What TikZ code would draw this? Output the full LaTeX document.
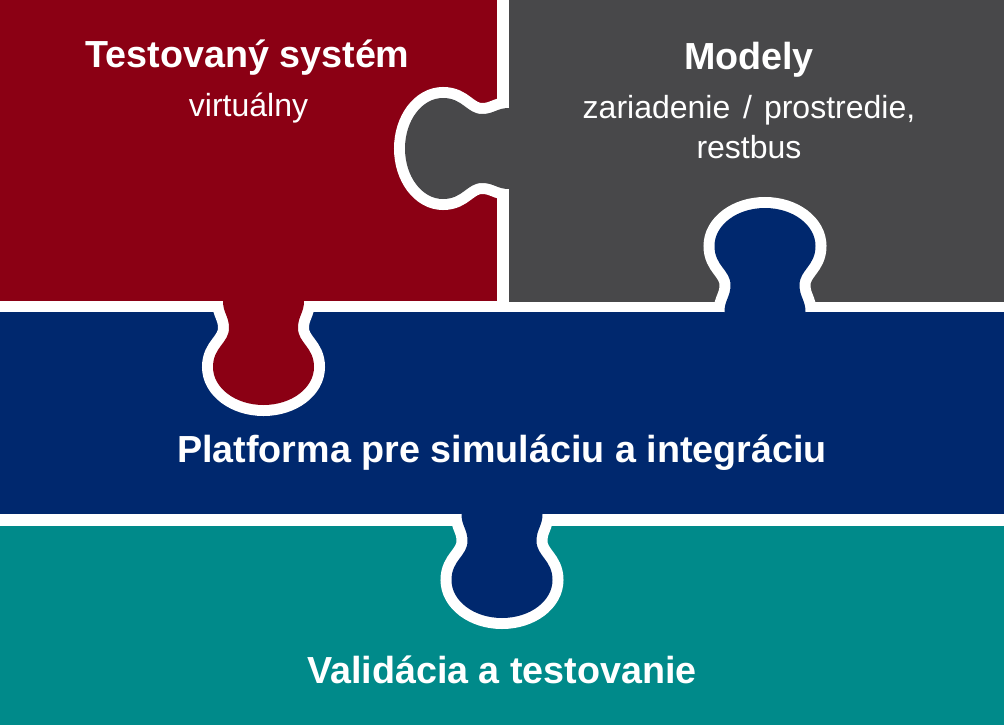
\documentclass[tikz,border=0pt]{standalone}
\usepackage{fontspec}
\setmainfont{Liberation Sans}
\usepackage{tikz}
\usetikzlibrary{positioning}
\definecolor{sutRed}{HTML}{8B0014}
\definecolor{modelGray}{HTML}{48484A}
\definecolor{platBlue}{HTML}{00286E}
\definecolor{valTeal}{HTML}{008A8A}

% one puzzle knob, local frame: base on y=0, knob grows along +y
\newcommand{\knob}{(-40.5,0) .. controls (-40.5,12) and (-34.5,15) .. (-34.5,27)
  .. controls (-34.5,42) and (-50.5,46) .. (-50.5,66)
  .. controls (-50.5,87) and (-28,104) .. (0,104)
  .. controls (28,104) and (50.5,87) .. (50.5,66)
  .. controls (50.5,46) and (34.5,42) .. (34.5,27)
  .. controls (34.5,15) and (40.5,12) .. (40.5,0)}

\begin{document}
\begin{tikzpicture}[
  x=1pt, y=-1pt,
  gap/.style={draw=white, line width=22pt},
  title/.style={text=white, font=\bfseries\fontsize{37.7}{42}\selectfont, anchor=base, inner sep=0pt},
  subtext/.style={text=white, font=\fontsize{32}{38}\selectfont, anchor=base, inner sep=0pt}
]
\useasboundingbox (0,0) rectangle (1004,725);
\fill[white] (0,0) rectangle (1004,725);
% the four pieces
\fill[sutRed] (0,0) rectangle (497,301);
\fill[modelGray] (509,0) rectangle (1004,302);
\fill[platBlue] (0,312) rectangle (1004,514);
\fill[valTeal] (0,526) rectangle (1004,725);
% knobs
\foreach \kx/\ky/\ang/\col in {263.5/301/0/sutRed, 765/312/180/platBlue, 502/514/0/platBlue, 509/148.5/-90/modelGray}{
  \begin{scope}[shift={(\kx,\ky)}, rotate=\ang]
    \draw[gap] \knob;
    \fill[\col] (-40.5,-2) -- \knob -- (40.5,-2) -- cycle;
  \end{scope}
}
% labels
\node[title] (sut) at (247.5,67) {Testovaný systém};
\node[subtext] (sutsub) at (248.5,116) {virtuálny};
\node[title] (models) at (749,70) {Modely};
\node[subtext] (modelsub) at (749,118) {zariadenie\hspace{4pt} / \hspace{3pt}prostredie,};
\node[subtext] (modelsubb) at (749,158) {restbus};
\node[title] (platform) at (502,462) {Platforma pre simuláciu a integráciu};
\node[title] (validation) at (502,683) {Validácia a testovanie};
\end{tikzpicture}
\end{document}
